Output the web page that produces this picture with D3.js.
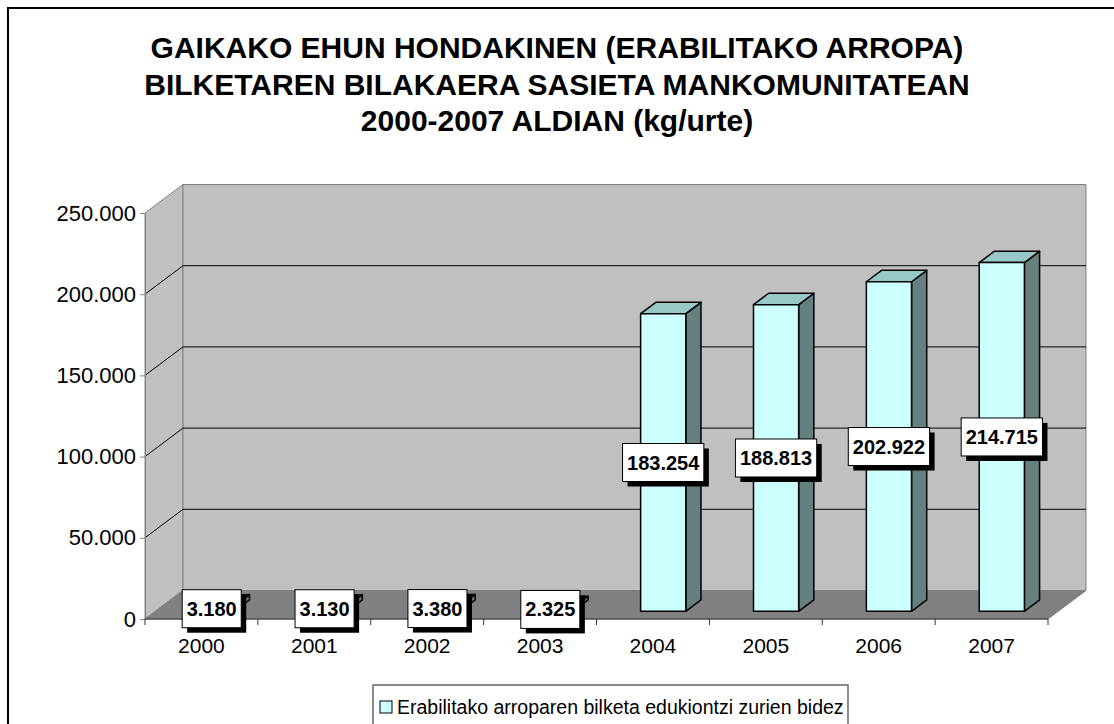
<!DOCTYPE html>
<html>
<head>
<meta charset="utf-8">
<title>Ehun hondakinen bilketa</title>
<script src="https://cdn.jsdelivr.net/npm/d3@7"></script>
</head>
<body style='margin: 0;padding: 0;background: #fff'>
<div id="chart"></div>
<script>

var years = ['2000', '2001', '2002', '2003', '2004', '2005', '2006', '2007']
var kilos = [3180, 3130, 3380, 2325, 183254, 188813, 202922, 214715]
var yTicks = [0, 50000, 100000, 150000, 200000, 250000]
var titleLines = ['GAIKAKO EHUN HONDAKINEN (ERABILITAKO ARROPA)',
                  'BILKETAREN BILAKAERA SASIETA MANKOMUNITATEAN',
                  '2000-2007 ALDIAN (kg/urte)']
var legendText = 'Erabilitako arroparen bilketa edukiontzi zurien bidez'

var width = 1114, height = 724
var font = 'Arial, "Liberation Sans", sans-serif'
var depthX = 38, depthY = 28.5

var fmt = d3.formatLocale({decimal: ',', thousands: '.', grouping: [3], currency: ['', '']}).format(',')

var svg = d3.select('#chart').append('svg').attr('width', width).attr('height', height)

// outer frame
svg.append('rect').attr('x', 8).attr('y', 8).attr('width', 1120).attr('height', 740)
  .style('fill', '#fff').style('stroke', '#000').style('stroke-width', 2)

svg.selectAll('.title').data(titleLines).enter().append('text')
  .attr('class', 'title')
  .text(d => d)
  .attr('x', 557)
  .attr('y', (d, i) => 58 + i * 36.5)
  .attr('text-anchor', 'middle')
  .attr('font-family', font)
  .attr('font-size', 30)
  .attr('font-weight', 'bold')

var x = d3.scaleBand().domain(years).range([145, 1048])
var y = d3.scaleLinear().domain([0, 250000]).range([619, 213])

// project a point of the front plane back by depth z (0..1)
function P(px, v, z) { return [px + depthX * z, y(v) - depthY * z] }
function poly(pts) { return 'M' + pts.map(p => p.join(',')).join('L') + 'Z' }

var x0 = x.range()[0], x1 = x.range()[1]

// walls and floor
svg.append('path')
  .attr('d', poly([P(x0, 0, 0), P(x0, 0, 1), P(x0, 250000, 1), P(x0, 250000, 0)]))
  .style('fill', '#c0c0c0').style('stroke', '#808080')
svg.append('path')
  .attr('d', poly([P(x0, 0, 1), P(x1, 0, 1), P(x1, 250000, 1), P(x0, 250000, 1)]))
  .style('fill', '#c0c0c0').style('stroke', '#808080')
svg.append('path')
  .attr('d', poly([P(x0, 0, 0), P(x1, 0, 0), P(x1, 0, 1), P(x0, 0, 1)]))
  .style('fill', '#808080').style('stroke', '#808080')

// gridlines
var grid = yTicks.filter(v => v > 0 && v < 250000)
svg.selectAll('.gridb').data(grid).enter().append('path')
  .attr('d', v => 'M' + P(x0, v, 0) + 'L' + P(x0, v, 1) + 'L' + P(x1, v, 1))
  .style('fill', 'none').style('stroke', '#000').style('stroke-width', 1)

// bars
var bw = x.bandwidth()
var z0 = 0.27, z1 = 0.67
var bars = years.map((yr, i) => ({year: yr, v: kilos[i], a: x(yr) + bw * 0.3, b: x(yr) + bw * 0.7}))

var g = svg.selectAll('.bar').data(bars).enter().append('g').attr('class', 'bar')
  .style('stroke', '#000').style('stroke-width', 1.5).style('stroke-linejoin', 'round')
g.append('path')
  .attr('d', d => poly([P(d.b, 0, z0), P(d.b, 0, z1), P(d.b, d.v, z1), P(d.b, d.v, z0)]))
  .style('fill', '#668080')
g.append('path')
  .attr('d', d => poly([P(d.a, d.v, z0), P(d.b, d.v, z0), P(d.b, d.v, z1), P(d.a, d.v, z1)]))
  .style('fill', '#99c8c8')
g.append('path')
  .attr('d', d => poly([P(d.a, 0, z0), P(d.b, 0, z0), P(d.b, d.v, z0), P(d.a, d.v, z0)]))
  .style('fill', '#ccffff')

// y axis
var yAxis = svg.append('g').attr('transform', 'translate(' + x0 + ',0)')
  .call(d3.axisLeft(y).tickValues(yTicks).tickFormat(fmt).tickSize(5).tickSizeOuter(0).tickPadding(4))
yAxis.selectAll('path, line').style('stroke', '#808080')
yAxis.selectAll('text').attr('font-family', font).attr('font-size', 22).style('fill', '#000')

// x axis
svg.append('line').attr('x1', x0).attr('x2', x1).attr('y1', y(0)).attr('y2', y(0))
  .style('stroke', '#333')
svg.selectAll('.xtick').data(years.concat(['end'])).enter().append('line')
  .attr('x1', d => d == 'end' ? x1 : x(d)).attr('x2', d => d == 'end' ? x1 : x(d))
  .attr('y1', y(0)).attr('y2', y(0) + 6)
  .style('stroke', '#333')
svg.selectAll('.xlab').data(years).enter().append('text')
  .text(d => d)
  .attr('x', d => x(d) + bw / 2)
  .attr('y', y(0) + 34)
  .attr('text-anchor', 'middle')
  .attr('font-family', font)
  .attr('font-size', 21)

// data labels, centred on the bar front face
var lab = svg.selectAll('.lab').data(bars).enter().append('g').attr('class', 'lab')
  .attr('transform', d => {
    var c = P((d.a + d.b) / 2, d.v / 2, z0)
    return 'translate(' + c[0] + ',' + c[1] + ')'
  })
lab.append('rect').attr('class', 'shadow')
lab.append('rect').attr('class', 'box')
lab.append('text')
  .text(d => fmt(d.v))
  .attr('text-anchor', 'middle')
  .attr('y', 7)
  .attr('font-family', font)
  .attr('font-size', 20)
  .attr('font-weight', 'bold')
lab.each(function() {
  var t = d3.select(this).select('text')
  var w = t.node().getComputedTextLength() + 9
  var h = 38
  d3.select(this).select('.shadow').attr('x', -w / 2 + 5).attr('y', -h / 2 + 5)
    .attr('width', w).attr('height', h).style('fill', '#000')
  d3.select(this).select('.box').attr('x', -w / 2).attr('y', -h / 2)
    .attr('width', w).attr('height', h).style('fill', '#fff').style('stroke', '#000').style('stroke-width', 1)
})

// legend
svg.append('rect').attr('x', 373).attr('y', 685).attr('width', 475).attr('height', 50)
  .style('fill', '#fff').style('stroke', '#666').style('stroke-width', 1.5)
svg.append('rect').attr('x', 380).attr('y', 701).attr('width', 12).attr('height', 12)
  .style('fill', '#ccffff').style('stroke', '#000')
svg.append('text').text(legendText)
  .attr('x', 397).attr('y', 714)
  .attr('font-family', font)
  .attr('font-size', 19.5)

</script>
</body>
</html>
